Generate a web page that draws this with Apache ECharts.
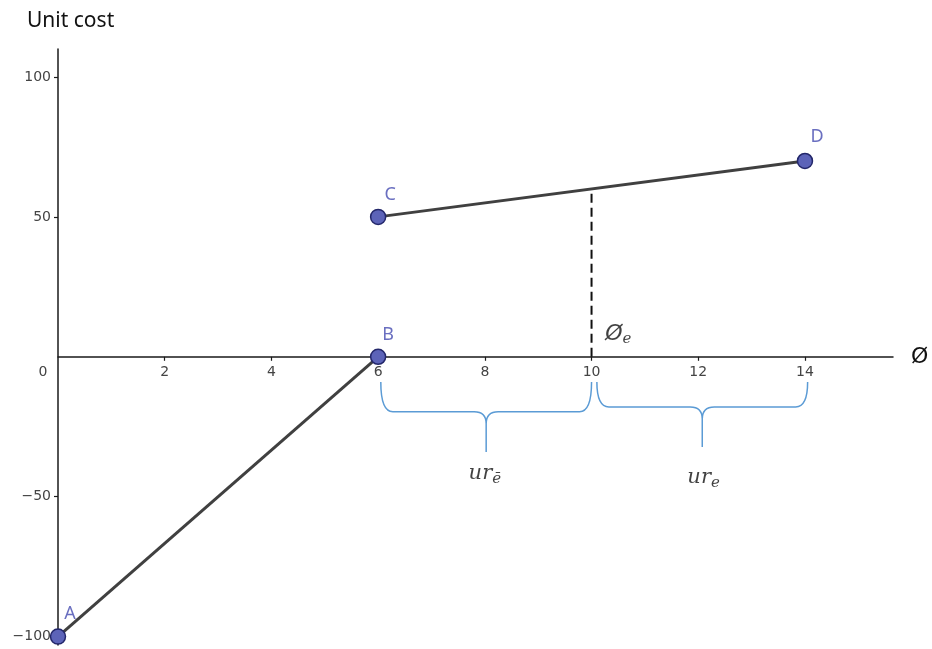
<!DOCTYPE html>
<html>
<head>
<meta charset="utf-8">
<script src="https://cdn.jsdelivr.net/npm/echarts@6/dist/echarts.min.js"></script>
<style>html,body{margin:0;padding:0;background:#fff}#c{width:932px;height:649px}</style>
</head>
<body>
<div id="c"></div>
<script>
// ---- data ----
const segAB = [[0, -100], [6, 0]];
const segCD = [[6, 50], [14, 70]];
const namesAB = ['A', 'B'];
const namesCD = ['C', 'D'];
const dashedLine = [[10, 0], [10, 60]];
const xTickValues = [2, 4, 6, 8, 10, 12, 14];
const xLabelValues = [0, 2, 4, 6, 8, 10, 12, 14];
const yTickValues = [-100, -50, 50, 100];
const xMin = 0, xMax = 15.65;
const yMin = -103, yMax = 110;
// braces: [xStart, xEnd, yTop, yBar, yTip]
const braceLeft = [6.05, 10.0, -9, -19.6, -34];
const braceRight = [10.1, 14.05, -9, -17.9, -32.2];
// annotation positions [x, y]
const phiLabelPos = [10.5, 8.2];
const urBarPos = [8.0, -41.8];
const urPos = [12.1, -43.2];

// ---- layout ----
const W = 932, H = 649;
const gridTop = 49, gridBottom = 4;
const gridH = H - gridTop - gridBottom;
// place x axis at y = 0 of the value scale
const xAxisOffset = -gridH * (0 - yMin) / (yMax - yMin);

const chart = echarts.init(document.getElementById('c'));
const pointLabel = (dx, dy) => ({
  show: true, position: 'top', offset: [dx, dy], formatter: p => p.name,
  color: '#6a6fc0', fontSize: 18, fontFamily: 'Noto Sans'
});
const mkPoints = (seg, names, offs) => seg.map((p, i) => ({
  name: names[i], value: p, label: pointLabel(offs[i][0], offs[i][1])
}));
const braceSeries = (b) => ({
  type: 'custom', silent: true, z: 3,
  data: [b],
  renderItem: (params, api) => {
    const x0 = api.value(0), x1 = api.value(1);
    const xm = (x0 + x1) / 2;
    const pTop0 = api.coord([x0, api.value(2)]);
    const pBar0 = api.coord([x0, api.value(3)]);
    const pTop1 = api.coord([x1, api.value(2)]);
    const pBar1 = api.coord([x1, api.value(3)]);
    const pM = api.coord([xm, api.value(3)]);
    const pTip = api.coord([xm, api.value(4)]);
    const r = 12;
    const d = [
      'M', pTop0[0], pTop0[1],
      'Q', pBar0[0], pBar0[1], pBar0[0] + r, pBar0[1],
      'L', pM[0] - r, pM[1],
      'Q', pM[0], pM[1], pM[0], pM[1] + r,
      'L', pTip[0], pTip[1],
      'M', pM[0], pM[1] + r,
      'Q', pM[0], pM[1], pM[0] + r, pM[1],
      'L', pBar1[0] - r, pBar1[1],
      'Q', pBar1[0], pBar1[1], pTop1[0], pTop1[1]
    ].join(' ');
    return {
      type: 'path', shape: { pathData: d },
      style: { stroke: '#5b9bd5', fill: null, lineWidth: 1.5 }
    };
  }
});
const textPoint = (pos, text, rich) => ({
  type: 'scatter', silent: true, symbolSize: 0, z: 5,
  data: [pos],
  label: { show: true, position: 'inside', formatter: text, rich: rich }
});
const mathRich = {
  m: { fontFamily: 'DejaVu Serif', fontStyle: 'italic', fontSize: 21, color: '#111' },
  s: { fontFamily: 'DejaVu Serif', fontStyle: 'italic', fontSize: 15, color: '#111', verticalAlign: 'bottom', padding: [10, 0, 0, 0] },
  p: { fontFamily: 'DejaVu Sans', fontStyle: 'italic', fontSize: 22, color: '#111' }
};

chart.setOption({
  animation: false,
  title: {
    text: 'Unit cost', left: 22, top: 6,
    textStyle: { fontFamily: 'Noto Sans', fontWeight: 'normal', fontSize: 21, color: '#111' }
  },
  grid: { left: 58, right: 39, top: gridTop, bottom: gridBottom, outerBoundsMode: 'none', containLabel: false },
  xAxis: {
    type: 'value', min: xMin, max: xMax, position: 'bottom', offset: xAxisOffset,
    name: 'Ø', nameLocation: 'end', nameGap: 18,
    nameTextStyle: { fontFamily: 'DejaVu Sans', fontSize: 22, color: '#111' },
    axisLine: { onZero: false, lineStyle: { color: '#1a1a1a', width: 1.5 } },
    axisTick: { show: true, customValues: xTickValues, length: 4, lineStyle: { color: '#1a1a1a', width: 1.2 } },
    axisLabel: {
      customValues: xLabelValues, color: '#444', fontSize: 14, fontFamily: 'DejaVu Sans', margin: 9,
      formatter: v => v === 0 ? '{z|0}' : String(v),
      rich: { z: { color: '#444', fontSize: 14, fontFamily: 'DejaVu Sans', padding: [0, 30, 0, 0] } }
    },
    splitLine: { show: false }
  },
  yAxis: {
    type: 'value', min: yMin, max: yMax,
    axisLine: { show: true, onZero: true, lineStyle: { color: '#1a1a1a', width: 1.5 } },
    axisTick: { show: true, customValues: yTickValues, length: 4, lineStyle: { color: '#1a1a1a', width: 1.2 } },
    axisLabel: {
      customValues: yTickValues, color: '#444', fontSize: 14, fontFamily: 'DejaVu Sans', margin: 7,
      formatter: v => String(v).replace('-', '\u2212')
    },
    splitLine: { show: false }
  },
  series: [
    {
      type: 'line', data: dashedLine, symbol: 'none', z: 2,
      lineStyle: { color: '#111', width: 2, type: [9, 5] }
    },
    {
      type: 'line', data: mkPoints(segAB, namesAB, [[12, 0], [10, 0]]),
      symbol: 'circle', symbolSize: 15, z: 4,
      lineStyle: { color: '#404040', width: 3 },
      itemStyle: { color: '#5c63b8', borderColor: '#23276a', borderWidth: 1.5 }
    },
    {
      type: 'line', data: mkPoints(segCD, namesCD, [[12, 0], [12, -2]]),
      symbol: 'circle', symbolSize: 15, z: 4,
      lineStyle: { color: '#404040', width: 3 },
      itemStyle: { color: '#5c63b8', borderColor: '#23276a', borderWidth: 1.5 }
    },
    braceSeries(braceLeft),
    braceSeries(braceRight),
    textPoint(phiLabelPos, '{p|Ø}{s|e}', mathRich),
    textPoint(urBarPos, '{m|ur}{s|ē}', mathRich),
    textPoint(urPos, '{m|ur}{s|e}', mathRich)
  ]
});
</script>
</body>
</html>
